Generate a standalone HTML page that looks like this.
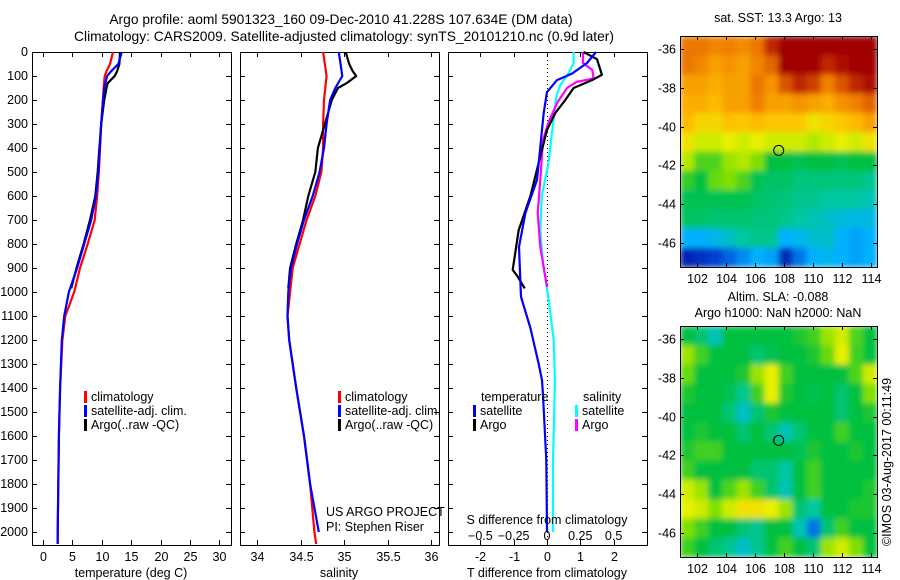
<!DOCTYPE html>
<html><head><meta charset="utf-8"><style>
html,body{margin:0;padding:0;background:#fff;}
svg{display:block;font-family:"Liberation Sans",sans-serif;}
text{fill:#000;}
</style></head><body>
<svg id="c" width="900" height="580" viewBox="0 0 900 580">
<defs>
<filter id="blur" x="0" y="0" width="1" height="1"><feGaussianBlur stdDeviation="3" edgeMode="duplicate"/></filter>
<clipPath id="clipA"><rect x="680" y="36" width="197" height="231"/></clipPath>
<clipPath id="clipB"><rect x="680" y="326" width="197" height="231"/></clipPath>
</defs>
</svg>
<script>
// ---------- data ----------
const tDepth = [0,50,80,100,150,200,300,500,600,700,800,900,1000,1100,1200,1400,1600,1800,2000,2050];
const tClim  = [11.9,11.4,10.8,10.5,10.3,10.2,9.9,9.5,9.2,8.8,7.6,6.3,5.3,3.8,3.3,2.9,2.7,2.6,2.5,2.5];
const tSat   = [13.4,12.8,11.6,10.9,10.4,10.2,9.9,9.4,9.0,8.2,7.0,5.8,4.4,3.6,3.2,2.9,2.7,2.6,2.5,2.5];
const argoDepth = [0,50,80,100,130,150,200,300,400,500,600,700,800,900,985];
const tArgo  = [13.1,13.0,12.6,12.2,11.0,10.8,10.4,9.9,9.6,9.3,8.9,8.0,6.9,5.7,4.8];
const sClimDepth = [0,100,200,300,400,500,600,700,800,900,1000,1100,1200,1400,1600,1800,2000,2050];
const sClim  = [34.76,34.80,34.77,34.76,34.76,34.74,34.67,34.57,34.49,34.41,34.38,34.35,34.37,34.45,34.54,34.61,34.66,34.68];
const sSatDepth = [0,100,150,200,300,400,500,600,700,800,900,1000,1100,1200,1400,1600,1800,2000];
const sSat   = [34.94,34.98,34.90,34.84,34.80,34.77,34.72,34.64,34.54,34.46,34.39,34.36,34.35,34.37,34.45,34.54,34.61,34.71];
const sArgo  = [35.02,35.06,35.10,35.14,35.03,34.93,34.86,34.78,34.70,34.67,34.59,34.53,34.45,34.38,34.36];
const dTSatDepth = [0,46,90,117,167,254,395,533,671,812,1020,1150,1300,1367,1430,1700,2000];
const dTSat  = [1.47,1.2,0.75,0.3,0.0,-0.1,-0.2,-0.3,-0.65,-0.84,-0.78,-0.5,-0.25,-0.15,-0.12,-0.02,0.0];
const dTArgoDepth = [0,30,95,117,150,200,254,325,435,600,742,880,908,936,985];
const dTArgo = [1.1,1.5,1.65,1.35,0.8,0.55,0.25,0.0,-0.2,-0.5,-0.85,-1.0,-1.03,-0.88,-0.67];
const dSArgoDepth = [0,46,75,110,125,150,213,296,367,533,671,812,979];
const dSArgo = [0.27,0.27,0.34,0.35,0.22,0.15,0.075,0.01,-0.03,-0.05,-0.07,-0.05,0.0];
const dSSatDepth = [0,46,90,138,184,325,467,600,742,880,1020,1200,1367,1700,2000];
const dSSat  = [0.2,0.2,0.16,0.1,0.07,0.04,0.01,-0.04,-0.05,-0.03,0.01,0.05,0.06,0.045,0.045];
const depthTicks = [0,100,200,300,400,500,600,700,800,900,1000,1100,1200,1300,1400,1500,1600,1700,1800,1900,2000];
const tTicks = [0,5,10,15,20,25,30];
const sTicks = [34,34.5,35,35.5,36];
const dTTicks = [-2,-1,0,1,2];
const dSTicks = [-0.5,-0.25,0,0.25,0.5];
const lonTicks = [102,104,106,108,110,112,114];
const latTicks = [-36,-38,-40,-42,-44,-46];
const sstGrid = [
[0.86,0.86,0.84,0.85,0.83,0.86,0.95,1,1,1,1,1,1,1],
[0.86,0.84,0.8,0.82,0.8,0.84,0.88,1,1,1,0.95,0.98,1,1],
[0.8,0.8,0.78,0.8,0.8,0.86,0.82,0.9,0.95,0.92,0.85,0.9,0.95,0.98],
[0.78,0.78,0.76,0.8,0.8,0.85,0.8,0.8,0.82,0.8,0.78,0.82,0.85,0.88],
[0.76,0.72,0.72,0.75,0.74,0.76,0.74,0.74,0.74,0.7,0.72,0.74,0.76,0.8],
[0.7,0.66,0.66,0.68,0.66,0.68,0.66,0.66,0.66,0.64,0.66,0.68,0.66,0.7],
[0.64,0.56,0.56,0.62,0.64,0.6,0.5,0.5,0.48,0.5,0.5,0.48,0.5,0.5],
[0.54,0.5,0.58,0.6,0.56,0.48,0.46,0.46,0.44,0.44,0.44,0.44,0.44,0.42],
[0.48,0.48,0.48,0.48,0.48,0.46,0.45,0.44,0.42,0.42,0.4,0.4,0.4,0.38],
[0.46,0.46,0.45,0.45,0.45,0.44,0.44,0.42,0.4,0.38,0.36,0.34,0.33,0.33],
[0.3,0.3,0.32,0.36,0.4,0.42,0.42,0.3,0.32,0.35,0.36,0.3,0.28,0.3],
[0.08,0.12,0.15,0.2,0.25,0.3,0.28,0.1,0.22,0.3,0.32,0.3,0.28,0.3]];
const slaGrid = [
[0.5,0.45,0.38,0.5,0.5,0.5,0.5,0.5,0.52,0.55,0.62,0.66,0.56,0.5],
[0.62,0.55,0.5,0.5,0.5,0.45,0.48,0.5,0.5,0.52,0.58,0.68,0.55,0.5],
[0.58,0.5,0.5,0.5,0.52,0.62,0.68,0.55,0.5,0.5,0.5,0.5,0.56,0.66],
[0.52,0.5,0.5,0.48,0.42,0.55,0.68,0.52,0.5,0.48,0.5,0.45,0.5,0.6],
[0.5,0.5,0.5,0.45,0.36,0.45,0.52,0.5,0.5,0.5,0.5,0.45,0.5,0.52],
[0.5,0.52,0.5,0.5,0.45,0.5,0.45,0.38,0.45,0.5,0.5,0.55,0.5,0.5],
[0.52,0.55,0.55,0.5,0.5,0.5,0.5,0.5,0.48,0.52,0.5,0.5,0.52,0.5],
[0.55,0.5,0.5,0.5,0.5,0.45,0.45,0.4,0.5,0.55,0.5,0.5,0.5,0.5],
[0.66,0.62,0.5,0.56,0.62,0.55,0.45,0.38,0.5,0.55,0.5,0.5,0.5,0.52],
[0.68,0.66,0.6,0.66,0.7,0.7,0.68,0.62,0.45,0.4,0.5,0.5,0.52,0.52],
[0.6,0.55,0.5,0.5,0.45,0.42,0.5,0.5,0.38,0.22,0.45,0.55,0.5,0.5],
[0.55,0.5,0.45,0.42,0.36,0.42,0.5,0.55,0.5,0.45,0.62,0.66,0.6,0.5]];
const argoLon = 107.634, argoLat = -41.228;

// ---------- helpers ----------
const NS='http://www.w3.org/2000/svg';
const svg=document.getElementById('c');
function mk(tag,attrs,parent,txt){const e=document.createElementNS(NS,tag);for(const k in attrs)e.setAttribute(k,attrs[k]);if(txt!==undefined)e.textContent=txt;(parent||svg).appendChild(e);return e;}
const yD=d=>52+d*0.24;
const P1={l:32,r:231}, P2={l:240,r:439}, P3={l:448,r:647}, TOP=52, BOT=545;
const xT=v=>43+v*5.88;
const xS=v=>257+(v-34)*87;
const xDT=v=>547+v*33.3;
const xDS=v=>547+v*133.2;

function frame(p,name){
  const r=mk('rect',{x:p.l+0.5,y:TOP+0.5,width:p.r-p.l,height:BOT-TOP,fill:'none',stroke:'#000','stroke-width':1});
  
  depthTicks.forEach(d=>{const y=Math.round(yD(d))+0.5;
    mk('line',{x1:p.l,x2:p.l+5,y1:y,y2:y,stroke:'#000'});
    mk('line',{x1:p.r-5,x2:p.r+1,y1:y,y2:y,stroke:'#000'});});
}
function xticks(p,ticks,fx,labels,name){
  const g=mk('g',{});
  ticks.forEach(v=>{const x=Math.round(fx(v))+0.5;
    mk('line',{x1:x,x2:x,y1:TOP,y2:TOP+5,stroke:'#000'},g);
    mk('line',{x1:x,x2:x,y1:BOT-5,y2:BOT,stroke:'#000'},g);
    if(labels) mk('text',{x:x,y:561,'font-size':12.5,'text-anchor':'middle'},g,String(v));});
}
function line(depths,vals,fx,color,name){
  const pts=depths.map((d,i)=>fx(vals[i]).toFixed(1)+','+yD(d).toFixed(1)).join(' ');
  const e=mk('polyline',{points:pts,fill:'none',stroke:color,'stroke-width':2.2,'stroke-linejoin':'round'});
  
}
function legendEntry(x,y,color,label,name){
  const g=mk('g',{});
  mk('rect',{x:x,y:y-6,width:3,height:12,fill:color},g);
  mk('text',{x:x+7,y:y+4,'font-size':12.5},g,label);
}

// ---------- titles ----------
let t=mk('text',{x:341,y:24,'font-size':13.8,'text-anchor':'middle'},svg,'Argo profile: aoml 5901323_160 09-Dec-2010 41.228S 107.634E (DM data)');

t=mk('text',{x:344,y:41,'font-size':13.8,'text-anchor':'middle'},svg,'Climatology: CARS2009. Satellite-adjusted climatology: synTS_20101210.nc (0.9d later)');


const dl=mk('g',{});
depthTicks.forEach(d=>mk('text',{x:28,y:yD(d)+4,'font-size':12.5,'text-anchor':'end'},dl,String(d)));

// ---------- panel 1 temperature ----------
frame(P1,'temperature-panel');
xticks(P1,tTicks,xT,true,'temperature-x-axis');
line(tDepth,tClim,xT,'#ff0000','temp-climatology-line');
line(argoDepth,tArgo,xT,'#000000','temp-argo-line');
line(tDepth,tSat,xT,'#0000ff','temp-satellite-line');
t=mk('text',{x:131,y:577,'font-size':12.5,'text-anchor':'middle'},svg,'temperature (deg C)');

legendEntry(84,397,'#ff0000','climatology','legend-climatology');
legendEntry(84,411,'#0000ff','satellite-adj. clim.','legend-satellite');
legendEntry(84,425,'#000000','Argo(..raw -QC)','legend-argo');

// ---------- panel 2 salinity ----------
frame(P2,'salinity-panel');
xticks(P2,sTicks,xS,true,'salinity-x-axis');
line(sClimDepth,sClim,xS,'#ff0000','sal-climatology-line');
line(argoDepth,sArgo,xS,'#000000','sal-argo-line');
line(sSatDepth,sSat,xS,'#0000ff','sal-satellite-line');
t=mk('text',{x:339,y:577,'font-size':12.5,'text-anchor':'middle'},svg,'salinity');

legendEntry(338,397,'#ff0000','climatology','legend2-climatology');
legendEntry(338,411,'#0000ff','satellite-adj. clim.','legend2-satellite');
legendEntry(338,425,'#000000','Argo(..raw -QC)','legend2-argo');
t=mk('text',{x:326,y:516,'font-size':12.5},svg,'US ARGO PROJECT');
t=mk('text',{x:326,y:531,'font-size':12.5},svg,'PI: Stephen Riser');

// ---------- panel 3 differences ----------
frame(P3,'difference-panel');
xticks(P3,dTTicks,xDT,true,'t-diff-x-axis');
const zl=mk('line',{x1:547.5,x2:547.5,y1:TOP,y2:BOT,stroke:'#000','stroke-dasharray':'1,3'});

line(dSSatDepth,dSSat,xDS,'#00ffff','sal-diff-satellite-line');
line(dSArgoDepth,dSArgo,xDS,'#ff00ff','sal-diff-argo-line');
line(dTArgoDepth,dTArgo,xDT,'#000000','temp-diff-argo-line');
line(dTSatDepth,dTSat,xDT,'#0000ff','temp-diff-satellite-line');
const sl=mk('g',{});
dSTicks.forEach(v=>mk('text',{x:xDS(v),y:540,'font-size':12.5,'text-anchor':'middle'},sl,String(v).replace('-','\u2212')));
t=mk('text',{x:547,y:524,'font-size':12.5,'text-anchor':'middle'},svg,'S difference from climatology');

t=mk('text',{x:547,y:577,'font-size':12.5,'text-anchor':'middle'},svg,'T difference from climatology');

t=mk('text',{x:481,y:401,'font-size':12.5},svg,'temperature');
t=mk('text',{x:583,y:401,'font-size':12.5},svg,'salinity');
legendEntry(473,411,'#0000ff','satellite','legend3-temp-satellite');
legendEntry(473,425,'#000000','Argo','legend3-temp-argo');
legendEntry(575,411,'#00ffff','satellite','legend3-sal-satellite');
legendEntry(575,425,'#ff00ff','Argo','legend3-sal-argo');

// ---------- maps ----------
const stops=[[0,[0,0,138]],[0.15,[0,64,208]],[0.3,[0,176,255]],[0.4,[0,200,160]],[0.5,[0,192,64]],[0.6,[128,224,0]],[0.68,[232,240,0]],[0.75,[255,192,0]],[0.85,[240,128,0]],[0.92,[208,64,0]],[1,[160,0,0]]];
function cmap(v){for(let i=1;i<stops.length;i++){if(v<=stops[i][0]){const a=stops[i-1],b=stops[i];const f=(v-a[0])/(b[0]-a[0]);return 'rgb('+a[1].map((c,k)=>Math.round(c+(b[1][k]-c)*f)).join(',')+')';}}return 'rgb(160,0,0)';}
function map(top,grid,name,clip,label1,label2,ly){
  const L=680,R=877,T=top,B=top+231;
  const lonX=lo=>697+(lo-102)*14.5;
  const latY=la=>T+13+(-36-la)*19.4;
  const g=mk('g',{});
  const cg=mk('g',{'clip-path':'url(#'+clip+')'},g);
  const fg=mk('g',{filter:'url(#blur)'},cg);
  const rows=grid.length,cols=grid[0].length,cw=(R-L)/cols,ch=(B-T)/rows;
  grid.forEach((row,i)=>row.forEach((v,j)=>{
    const c=mk('rect',{x:(L+j*cw).toFixed(2),y:(T+i*ch).toFixed(2),width:(cw+0.6).toFixed(2),height:(ch+0.6).toFixed(2),fill:cmap(v)},fg);
    
  }));
  mk('rect',{x:L+0.5,y:T+0.5,width:R-L,height:B-T,fill:'none',stroke:'#000'},g);
  lonTicks.forEach(lo=>{const x=Math.round(lonX(lo))+0.5;
    mk('line',{x1:x,x2:x,y1:T,y2:T+4,stroke:'#000'},g);mk('line',{x1:x,x2:x,y1:B-4,y2:B,stroke:'#000'},g);
    mk('text',{x:x,y:B+16,'font-size':12.5,'text-anchor':'middle'},g,String(lo));});
  latTicks.forEach(la=>{const y=Math.round(latY(la))+0.5;
    mk('line',{x1:L,x2:L+4,y1:y,y2:y,stroke:'#000'},g);mk('line',{x1:R-4,x2:R,y1:y,y2:y,stroke:'#000'},g);
    mk('text',{x:L-4,y:y+4,'font-size':12.5,'text-anchor':'end'},g,String(la));});
  const m=mk('circle',{cx:lonX(argoLon),cy:latY(argoLat),r:5,fill:'none',stroke:'#000','stroke-width':1},g);
  
  let tt=mk('text',{x:778,y:ly,'font-size':12.5,'text-anchor':'middle'},svg,label1);
  
  if(label2){tt=mk('text',{x:778,y:ly+16,'font-size':12.5,'text-anchor':'middle'},svg,label2);
    }
}
map(36,sstGrid,'sst-map','clipA','sat. SST: 13.3 Argo: 13',null,22);
map(326,slaGrid,'sla-map','clipB','Altim. SLA: -0.088','Argo h1000: NaN h2000: NaN',301);
t=mk('text',{x:0,y:0,'font-size':12.5,'text-anchor':'middle',transform:'translate(891,462) rotate(-90)'},svg,'©IMOS 03-Aug-2017 00:11:49');

</script>
</body></html>
